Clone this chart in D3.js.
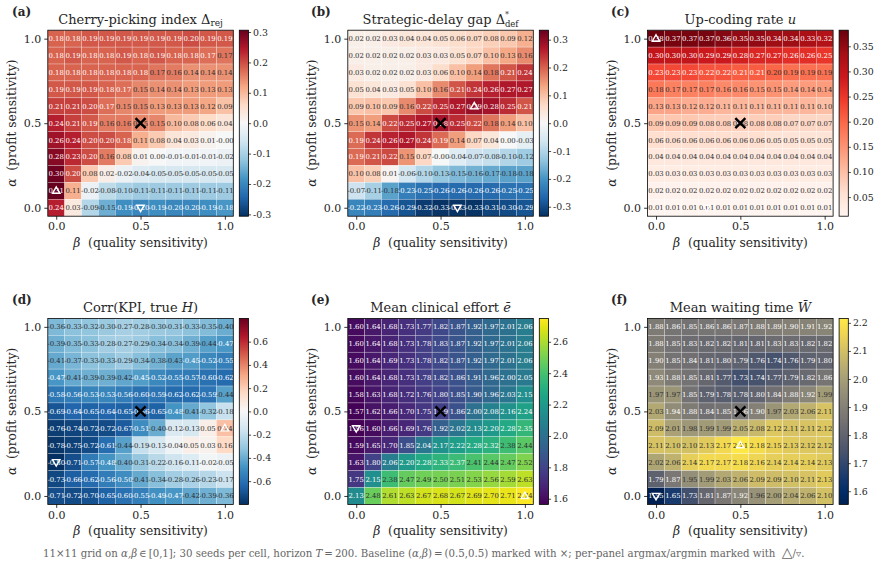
<!DOCTYPE html>
<html>
<head>
<meta charset="utf-8">
<script src="https://cdn.jsdelivr.net/npm/d3@7"></script>
<style>
  html, body { margin: 0; padding: 0; background: #fff; }
  svg { display: block; }
  text { font-family: "DejaVu Serif", serif; fill: #262626; }
  .tick text { font-family: "DejaVu Serif", serif; }
</style>
</head>
<body>
<svg id="fig" width="880" height="567"></svg>
<script>
// Sensitivity grids: rows run from alpha = 1.0 (top) down to alpha = 0.0.
const alphaGrid = [1.0, 0.9, 0.8, 0.7, 0.6, 0.5, 0.4, 0.3, 0.2, 0.1, 0.0];
const betaGrid = [0.0, 0.1, 0.2, 0.3, 0.4, 0.5, 0.6, 0.7, 0.8, 0.9, 1.0];

const cherryPicking = [
  [0.18, 0.18, 0.19, 0.19, 0.19, 0.19, 0.19, 0.19, 0.20, 0.19, 0.19],
  [0.18, 0.19, 0.18, 0.18, 0.19, 0.18, 0.19, 0.18, 0.18, 0.17, 0.165],
  [0.18, 0.18, 0.18, 0.18, 0.18, 0.18, 0.165, 0.16, 0.14, 0.14, 0.14],
  [0.19, 0.19, 0.19, 0.18, 0.17, 0.15, 0.14, 0.14, 0.13, 0.13, 0.13],
  [0.21, 0.21, 0.20, 0.17, 0.15, 0.15, 0.13, 0.13, 0.13, 0.12, 0.09],
  [0.24, 0.21, 0.19, 0.16, 0.16, 0.15, 0.15, 0.10, 0.08, 0.06, 0.04],
  [0.26, 0.24, 0.20, 0.20, 0.18, 0.11, 0.08, 0.04, 0.03, 0.01, -0.001],
  [0.28, 0.23, 0.20, 0.16, 0.08, 0.01, 0.00, -0.01, -0.01, -0.01, -0.02],
  [0.30, 0.20, 0.08, 0.02, -0.02, -0.04, -0.05, -0.05, -0.05, -0.05, -0.05],
  [0.31, 0.11, -0.02, -0.08, -0.10, -0.11, -0.11, -0.11, -0.11, -0.11, -0.11],
  [0.24, 0.03, -0.09, -0.15, -0.19, -0.20, -0.19, -0.20, -0.20, -0.19, -0.18]
];
const strategicDelay = [
  [0.02, 0.02, 0.03, 0.04, 0.04, 0.05, 0.06, 0.07, 0.08, 0.09, 0.12],
  [0.02, 0.02, 0.02, 0.02, 0.03, 0.03, 0.05, 0.07, 0.10, 0.13, 0.16],
  [0.03, 0.02, 0.02, 0.02, 0.03, 0.06, 0.10, 0.14, 0.18, 0.21, 0.24],
  [0.05, 0.04, 0.03, 0.05, 0.10, 0.16, 0.21, 0.24, 0.26, 0.27, 0.27],
  [0.09, 0.10, 0.09, 0.16, 0.22, 0.25, 0.27, 0.29, 0.28, 0.25, 0.21],
  [0.15, 0.14, 0.22, 0.25, 0.27, 0.28, 0.25, 0.22, 0.18, 0.14, 0.10],
  [0.19, 0.24, 0.26, 0.27, 0.24, 0.19, 0.14, 0.07, 0.04, 0.00, -0.03],
  [0.19, 0.21, 0.22, 0.15, 0.07, -0.001, -0.04, -0.07, -0.08, -0.10, -0.12],
  [0.10, 0.08, 0.01, -0.06, -0.10, -0.13, -0.15, -0.16, -0.17, -0.18, -0.18],
  [-0.07, -0.11, -0.18, -0.23, -0.25, -0.26, -0.26, -0.26, -0.26, -0.25, -0.25],
  [-0.22, -0.23, -0.26, -0.29, -0.32, -0.33, -0.33, -0.33, -0.31, -0.30, -0.29]
];
const upCoding = [
  [0.38, 0.37, 0.37, 0.37, 0.36, 0.35, 0.35, 0.34, 0.34, 0.33, 0.32],
  [0.30, 0.30, 0.30, 0.29, 0.29, 0.28, 0.27, 0.27, 0.26, 0.26, 0.25],
  [0.23, 0.23, 0.23, 0.22, 0.22, 0.21, 0.21, 0.20, 0.19, 0.19, 0.19],
  [0.18, 0.17, 0.17, 0.17, 0.16, 0.16, 0.15, 0.15, 0.14, 0.14, 0.14],
  [0.13, 0.13, 0.12, 0.12, 0.11, 0.11, 0.11, 0.11, 0.11, 0.11, 0.10],
  [0.09, 0.09, 0.09, 0.08, 0.08, 0.08, 0.08, 0.08, 0.07, 0.07, 0.07],
  [0.06, 0.06, 0.06, 0.06, 0.06, 0.06, 0.06, 0.05, 0.05, 0.05, 0.05],
  [0.04, 0.04, 0.04, 0.04, 0.04, 0.04, 0.04, 0.04, 0.04, 0.04, 0.04],
  [0.03, 0.03, 0.03, 0.03, 0.03, 0.03, 0.03, 0.03, 0.03, 0.03, 0.03],
  [0.02, 0.02, 0.02, 0.02, 0.02, 0.02, 0.02, 0.02, 0.02, 0.02, 0.02],
  [0.01, 0.01, 0.01, 0.01, 0.01, 0.01, 0.01, 0.01, 0.01, 0.01, 0.01]
];
const kpiCorrelation = [
  [-0.36, -0.33, -0.32, -0.30, -0.27, -0.28, -0.30, -0.31, -0.33, -0.35, -0.40],
  [-0.39, -0.35, -0.33, -0.28, -0.27, -0.29, -0.34, -0.34, -0.39, -0.44, -0.47],
  [-0.41, -0.37, -0.33, -0.33, -0.29, -0.34, -0.38, -0.43, -0.45, -0.52, -0.55],
  [-0.47, -0.41, -0.39, -0.39, -0.42, -0.45, -0.52, -0.55, -0.57, -0.60, -0.62],
  [-0.58, -0.56, -0.53, -0.53, -0.56, -0.60, -0.59, -0.62, -0.62, -0.59, -0.44],
  [-0.69, -0.64, -0.65, -0.64, -0.65, -0.66, -0.65, -0.48, -0.41, -0.32, -0.18],
  [-0.76, -0.74, -0.72, -0.72, -0.67, -0.51, -0.40, -0.12, -0.13, 0.05, 0.24],
  [-0.78, -0.75, -0.72, -0.61, -0.44, -0.19, -0.13, -0.04, 0.05, 0.03, 0.16],
  [-0.80, -0.71, -0.57, -0.48, -0.40, -0.31, -0.22, -0.16, -0.11, -0.02, -0.05],
  [-0.73, -0.66, -0.62, -0.56, -0.50, -0.41, -0.34, -0.28, -0.26, -0.23, -0.17],
  [-0.71, -0.72, -0.70, -0.65, -0.60, -0.55, -0.49, -0.47, -0.42, -0.39, -0.36]
];
const clinicalEffort = [
  [1.60, 1.64, 1.68, 1.73, 1.77, 1.82, 1.87, 1.92, 1.97, 2.01, 2.06],
  [1.60, 1.64, 1.68, 1.73, 1.78, 1.83, 1.87, 1.92, 1.97, 2.01, 2.06],
  [1.60, 1.64, 1.69, 1.73, 1.78, 1.82, 1.87, 1.92, 1.97, 2.01, 2.06],
  [1.60, 1.64, 1.68, 1.73, 1.78, 1.82, 1.86, 1.91, 1.96, 2.00, 2.05],
  [1.58, 1.63, 1.68, 1.72, 1.76, 1.80, 1.85, 1.90, 1.96, 2.03, 2.15],
  [1.57, 1.62, 1.66, 1.70, 1.75, 1.79, 1.86, 2.00, 2.08, 2.16, 2.24],
  [1.56, 1.60, 1.66, 1.69, 1.76, 1.92, 2.02, 2.13, 2.20, 2.28, 2.35],
  [1.59, 1.65, 1.70, 1.85, 2.04, 2.17, 2.22, 2.28, 2.32, 2.38, 2.44],
  [1.63, 1.80, 2.06, 2.20, 2.28, 2.33, 2.37, 2.41, 2.44, 2.47, 2.52],
  [1.75, 2.15, 2.38, 2.47, 2.49, 2.50, 2.51, 2.53, 2.56, 2.59, 2.63],
  [2.13, 2.48, 2.61, 2.63, 2.67, 2.68, 2.67, 2.69, 2.70, 2.71, 2.74]
];
const waitingTime = [
  [1.88, 1.86, 1.85, 1.86, 1.86, 1.87, 1.88, 1.89, 1.90, 1.91, 1.92],
  [1.88, 1.85, 1.83, 1.82, 1.82, 1.81, 1.81, 1.83, 1.83, 1.82, 1.82],
  [1.90, 1.85, 1.84, 1.81, 1.80, 1.79, 1.76, 1.74, 1.76, 1.79, 1.80],
  [1.93, 1.88, 1.85, 1.81, 1.77, 1.73, 1.74, 1.77, 1.79, 1.82, 1.86],
  [1.97, 1.97, 1.85, 1.79, 1.78, 1.78, 1.80, 1.84, 1.88, 1.92, 1.99],
  [2.03, 1.94, 1.88, 1.84, 1.85, 1.86, 1.90, 1.97, 2.03, 2.06, 2.11],
  [2.09, 2.01, 1.98, 1.99, 1.99, 2.05, 2.08, 2.12, 2.11, 2.11, 2.12],
  [2.11, 2.10, 2.10, 2.13, 2.17, 2.21, 2.18, 2.15, 2.13, 2.12, 2.12],
  [2.02, 2.06, 2.14, 2.17, 2.17, 2.18, 2.16, 2.14, 2.14, 2.14, 2.13],
  [1.79, 1.87, 1.95, 1.99, 2.03, 2.06, 2.09, 2.09, 2.10, 2.11, 2.13],
  [1.55, 1.65, 1.73, 1.81, 1.87, 1.92, 1.96, 2.00, 2.04, 2.06, 2.10]
];

// Colorbar tick labels per panel.
const cherryTicks = [-0.3, -0.2, -0.1, 0.0, 0.1, 0.2, 0.3];
const delayTicks = [-0.3, -0.2, -0.1, 0.0, 0.1, 0.2, 0.3];
const upCodingTicks = [0.05, 0.10, 0.15, 0.20, 0.25, 0.30, 0.35];
const corrTicks = [-0.6, -0.4, -0.2, 0.0, 0.2, 0.4, 0.6];
const effortTicks = [1.6, 1.8, 2.0, 2.2, 2.4, 2.6];
const waitingTicks = [1.6, 1.7, 1.8, 1.9, 2.0, 2.1, 2.2];
const axisTicks = [0.0, 0.5, 1.0];
const baseline = { alpha: 0.5, beta: 0.5 };

// Colormaps, sampled piecewise through the ColorBrewer stops.
const rdBuR = d3.piecewise(d3.interpolateRgb, d3.schemeRdBu[11].slice().reverse());
const reds = d3.piecewise(d3.interpolateRgb, d3.schemeReds[9]);

const panels = [
  { tag: "(a)", title: [["Cherry-picking index Δ"], ["rej", "sub"]], data: cherryPicking, cmap: rdBuR,
    vmin: -0.306, vmax: 0.306, ticks: cherryTicks, fmt: ".1f",
    light: v => Math.abs(v) >= 0.168, hi: [0.1, 0.0], lo: [0.0, 0.5], col: 0, row: 0 },
  { tag: "(b)", title: [["Strategic-delay gap Δ"], ["def", "subsup"]], data: strategicDelay, cmap: rdBuR,
    vmin: -0.334, vmax: 0.334, ticks: delayTicks, fmt: ".1f",
    light: v => Math.abs(v) >= 0.184, hi: [0.6, 0.7], lo: [0.0, 0.6], col: 1, row: 0 },
  { tag: "(c)", title: [["Up-coding rate "], ["u", "it"]], data: upCoding, cmap: reds,
    vmin: 0.012, vmax: 0.382, ticks: upCodingTicks, fmt: ".2f",
    light: v => v > 0.205, hi: [1.0, 0.0], lo: [0.0, 0.3], col: 2, row: 0 },
  { tag: "(d)", title: [["Corr(KPI, true "], ["H", "it"], [")"]], data: kpiCorrelation, cmap: rdBuR,
    vmin: -0.80, vmax: 0.80, ticks: corrTicks, fmt: ".1f",
    light: v => Math.abs(v) >= 0.445, hi: [0.4, 1.0], lo: [0.2, 0.0], col: 0, row: 1 },
  { tag: "(e)", title: [["Mean clinical effort "], ["ē", "it"]], data: clinicalEffort, cmap: d3.interpolateViridis,
    vmin: 1.564, vmax: 2.749, ticks: effortTicks, fmt: ".1f",
    light: v => v < 2.375, hi: [0.0, 1.0], lo: [0.4, 0.0], col: 1, row: 1 },
  { tag: "(f)", title: [["Mean waiting time "], ["W\u0304", "it"]], data: waitingTime, cmap: d3.interpolateCividis,
    vmin: 1.553, vmax: 2.216, ticks: waitingTicks, fmt: ".1f",
    light: v => v < 1.945, hi: [0.3, 0.5], lo: [0.0, 0.0], col: 2, row: 1 }
];

// Figure layout.
const columnLeft = [47.8, 347.8, 647.6];
const rowTop = [30.2, 318.4];
const axW = 185.5, axH = 186;
const barGap = 6, barW = 9.2;
const tagX = [12, 311, 611];

const svg = d3.select("#fig");
const defs = svg.append("defs");

panels.forEach((p, idx) => {
  const left = columnLeft[p.col], top = rowTop[p.row];
  const g = svg.append("g").attr("transform", `translate(${left},${top})`);
  const x = d3.scaleLinear().domain([-0.05, 1.05]).range([0, axW]);
  const y = d3.scaleLinear().domain([-0.05, 1.05]).range([axH, 0]);
  const norm = d3.scaleLinear().domain([p.vmin, p.vmax]).range([0, 1]).clamp(true);

  // Heatmap cells with a thin translucent white mesh.
  const cells = p.data.flatMap((row, i) => row.map((v, j) => ({ v, a: alphaGrid[i], b: betaGrid[j] })));
  g.selectAll("rect.cell").data(cells).join("rect")
    .attr("class", "cell")
    .attr("x", d => x(d.b - 0.05))
    .attr("y", d => y(d.a + 0.05))
    .attr("width", d => x(d.b + 0.05) - x(d.b - 0.05))
    .attr("height", d => y(d.a - 0.05) - y(d.a + 0.05))
    .attr("fill", d => p.cmap(norm(d.v)))
    .attr("stroke", "#fff").attr("stroke-opacity", 0.5).attr("stroke-width", 0.5);

  // Cell value labels.
  g.selectAll("text.val").data(cells).join("text")
    .attr("class", "val")
    .attr("x", d => x(d.b))
    .attr("y", d => y(d.a))
    .attr("dy", "0.36em")
    .attr("text-anchor", "middle")
    .attr("font-size", 6.9)
    .style("fill", d => p.light(d.v) ? "#ffffff" : "#2e2e2e")
    .text(d => d.v.toFixed(2));

  // Baseline cross and the panel's argmax / argmin triangles.
  const bx = x(baseline.beta), by = y(baseline.alpha), r = 5;
  g.append("path")
    .attr("d", `M${bx - r},${by - r}L${bx + r},${by + r}M${bx - r},${by + r}L${bx + r},${by - r}`)
    .attr("stroke", "#000").attr("stroke-width", 2.4).attr("fill", "none");
  const tri = d3.symbol().type(d3.symbolTriangle).size(24);
  g.append("path").attr("d", tri())
    .attr("transform", `translate(${x(p.hi[1])},${y(p.hi[0]) + 0.4})`)
    .attr("fill", "none").attr("stroke", "#fff").attr("stroke-width", 1.4);
  g.append("path").attr("d", tri())
    .attr("transform", `translate(${x(p.lo[1])},${y(p.lo[0]) - 0.4}) rotate(180)`)
    .attr("fill", "none").attr("stroke", "#fff").attr("stroke-width", 1.4);

  // Axes.
  const styleAxis = sel => {
    sel.selectAll(".domain").remove();
    sel.selectAll(".tick line").attr("stroke", "#000").attr("stroke-width", 0.8);
    sel.selectAll(".tick text").attr("font-size", 11).style("fill", "#262626");
  };
  g.append("g").attr("transform", `translate(0,${axH})`)
    .call(d3.axisBottom(x).tickValues(axisTicks).tickFormat(d3.format(".1f")).tickSize(3.5).tickPadding(3))
    .call(styleAxis);
  g.append("g")
    .call(d3.axisLeft(y).tickValues(axisTicks).tickFormat(d3.format(".1f")).tickSize(3.5).tickPadding(3))
    .call(styleAxis);
  g.append("rect").attr("width", axW).attr("height", axH)
    .attr("fill", "none").attr("stroke", "#000").attr("stroke-width", 0.8);

  // Axis titles.
  const xl = g.append("text").attr("x", axW / 2).attr("y", axH + 30.6)
    .attr("text-anchor", "middle").attr("font-size", 12.3);
  xl.append("tspan").attr("font-style", "italic").text("β");
  xl.append("tspan").text("\u00a0\u00a0(quality sensitivity)");
  const yl = g.append("text").attr("transform", `translate(-31.5,${axH / 2}) rotate(-90)`)
    .attr("text-anchor", "middle").attr("font-size", 12.3);
  yl.append("tspan").attr("font-style", "italic").text("α");
  yl.append("tspan").text("\u00a0\u00a0(profit sensitivity)");

  // Panel title with its math parts.
  const title = g.append("text").attr("x", axW / 2).attr("y", -6.2)
    .attr("text-anchor", "middle").attr("font-size", 13);
  p.title.forEach(([str, kind]) => {
    if (kind === "sub") {
      title.append("tspan").attr("font-size", 9).attr("dy", 2.2).text(str);
    } else if (kind === "subsup") {
      title.append("tspan").attr("font-size", 8).attr("dy", -7).text("*");
      title.append("tspan").attr("font-size", 8.5).attr("dx", -4.2).attr("dy", 10).text(str);
    } else if (kind === "it") {
      title.append("tspan").attr("font-style", "italic").text(str);
    } else {
      title.append("tspan").text(str);
    }
  });

  // Panel tag.
  svg.append("text").attr("x", tagX[p.col]).attr("y", top - 14.2)
    .attr("font-size", 12).attr("font-weight", "bold").text(p.tag);

  // Colorbar.
  const gradId = `bar-${idx}`;
  const grad = defs.append("linearGradient").attr("id", gradId)
    .attr("x1", 0).attr("y1", 1).attr("x2", 0).attr("y2", 0);
  d3.range(0, 1.0001, 1 / 64).forEach(t =>
    grad.append("stop").attr("offset", t).attr("stop-color", p.cmap(t)));
  const cb = g.append("g").attr("transform", `translate(${axW + barGap},0)`);
  cb.append("rect").attr("width", barW).attr("height", axH).attr("fill", `url(#${gradId})`);
  const cy = d3.scaleLinear().domain([p.vmin, p.vmax]).range([axH, 0]);
  cb.append("g").attr("transform", `translate(${barW},0)`)
    .call(d3.axisRight(cy).tickValues(p.ticks).tickFormat(d3.format(p.fmt)).tickSize(2.6).tickPadding(2))
    .call(sel => {
      sel.selectAll(".domain").remove();
      sel.selectAll(".tick line").attr("stroke", "#000").attr("stroke-width", 0.7);
      sel.selectAll(".tick text").attr("font-size", 9.4).style("fill", "#262626")
        .text(d => d3.format(p.fmt)(d).replace("\u2212", "-"));
    });
  cb.append("rect").attr("width", barW).attr("height", axH)
    .attr("fill", "none").attr("stroke", "#000").attr("stroke-width", 0.8);
});

// Footnote across the bottom of the figure.
const foot = svg.append("text").attr("x", 43).attr("y", 557.4)
  .attr("font-size", 10.2).style("fill", "#666");
const footParts = [
  ["11×11 grid on "], ["α,β", "it"], ["\u2009∈\u2009[0,1]; 30 seeds per cell, horizon "], ["T", "it"],
  ["\u2009=\u2009200. Baseline ("], ["α,β", "it"], [")\u2009=\u2009(0.5,0.5) marked with ×; per-panel argmax/argmin marked with \u00a0"],
  ["△", "big"], ["/▿."]
];
footParts.forEach(([s, kind]) => {
  const t = foot.append("tspan").text(s).style("fill", "#666");
  if (kind === "it") t.attr("font-style", "italic");
  if (kind === "big") t.attr("font-size", 14);
});
</script>
</body>
</html>
